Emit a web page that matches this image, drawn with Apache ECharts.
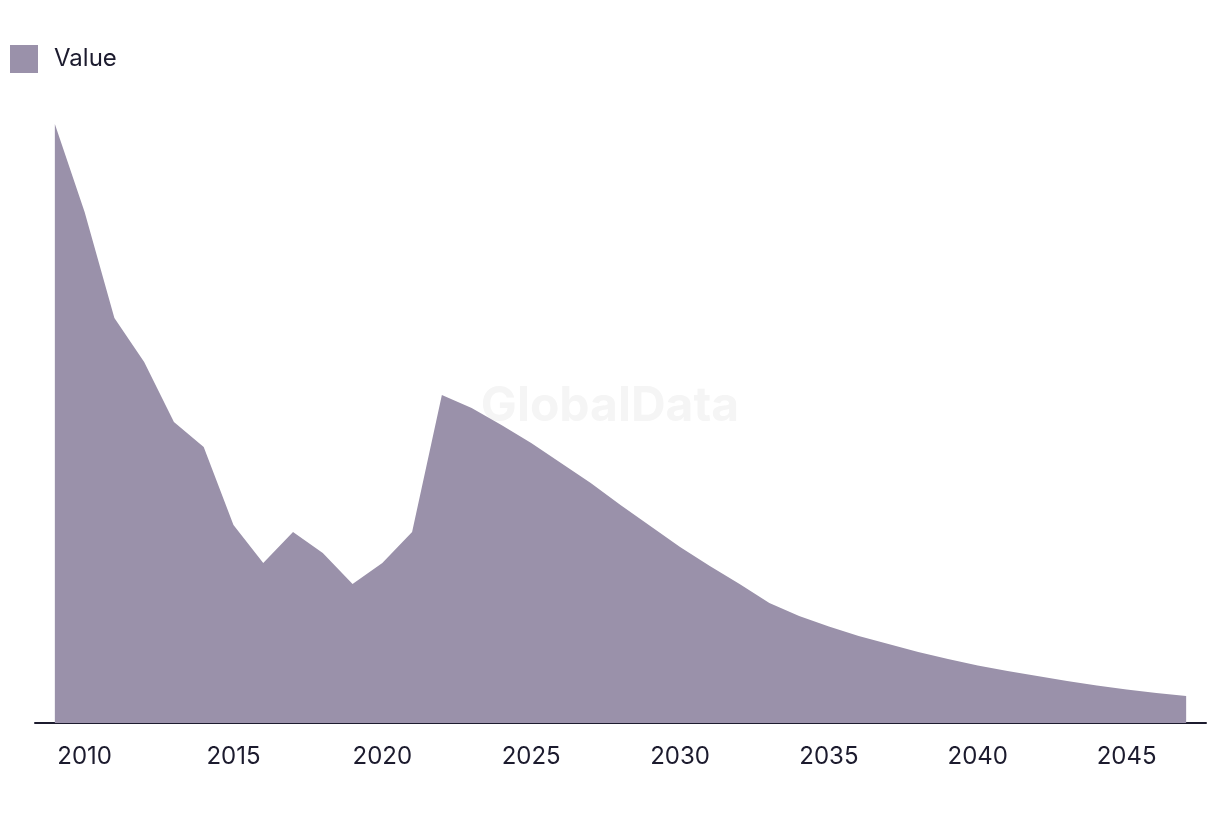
<!DOCTYPE html>
<html>
<head>
<meta charset="utf-8">
<style>
  html, body { margin: 0; padding: 0; background: #ffffff; }
  #chart { width: 1220px; height: 814px; }
</style>
<script src="https://cdn.jsdelivr.net/npm/echarts@6/dist/echarts.min.js"></script>
</head>
<body>
<div id="chart"></div>
<script>
const years = [2009, 2010, 2011, 2012, 2013, 2014, 2015, 2016, 2017, 2018,
  2019, 2020, 2021, 2022, 2023, 2024, 2025, 2026, 2027, 2028,
  2029, 2030, 2031, 2032, 2033, 2034, 2035, 2036, 2037, 2038,
  2039, 2040, 2041, 2042, 2043, 2044, 2045, 2046, 2047];
const values = [59.9, 51.1, 40.5, 36.1, 30.1, 27.6, 19.8, 16.0, 19.1, 17.0,
  13.9, 16.0, 19.1, 32.8, 31.5, 29.8, 28.0, 26.0, 24.0, 21.8,
  19.7, 17.6, 15.7, 13.9, 12.0, 10.7, 9.65, 8.7, 7.9, 7.1,
  6.4, 5.75, 5.2, 4.7, 4.2, 3.75, 3.35, 3.0, 2.7];
const tickLabels = [2010, 2015, 2020, 2025, 2030, 2035, 2040, 2045];
const seriesName = 'Value';

const textColor = '#1c1b2e';
const areaColor = '#9a91aa';

const chart = echarts.init(document.getElementById('chart'), null, { renderer: 'canvas' });
chart.setOption({
  animation: false,
  backgroundColor: '#ffffff',
  graphic: [{
    type: 'text',
    left: 'center',
    top: 383,
    z: 0,
    style: {
      text: 'GlobalData',
      fontFamily: 'Inter',
      fontWeight: 'bold',
      fontSize: 48,
      fill: '#f5f5f5'
    }
  }],
  legend: {
    left: 5,
    top: 40,
    icon: 'rect',
    itemWidth: 28,
    itemHeight: 28,
    itemStyle: { color: areaColor },
    textStyle: {
      fontFamily: 'Inter',
      fontSize: 24,
      color: textColor,
      padding: [0, 0, 0, 11]
    },
    data: [seriesName]
  },
  grid: { left: 35, right: 14, top: 123, bottom: 91 },
  xAxis: {
    type: 'value',
    min: 2008 + 1 / 3,
    max: 2047 + 2 / 3,
    splitLine: { show: false },
    axisTick: { show: false },
    axisLine: { show: true, lineStyle: { color: textColor, width: 2 } },
    axisLabel: {
      customValues: tickLabels,
      fontFamily: 'Inter',
      fontSize: 24,
      color: textColor,
      margin: 22,
      formatter: v => String(v)
    }
  },
  yAxis: {
    type: 'value',
    min: 0,
    max: 60,
    show: false,
    splitLine: { show: false }
  },
  series: [{
    name: seriesName,
    type: 'line',
    z: 2,
    data: years.map((y, i) => [y, values[i]]),
    showSymbol: false,
    symbol: 'none',
    lineStyle: { width: 0, color: areaColor },
    itemStyle: { color: areaColor },
    areaStyle: { color: areaColor, opacity: 1 }
  }]
});
</script>
</body>
</html>
